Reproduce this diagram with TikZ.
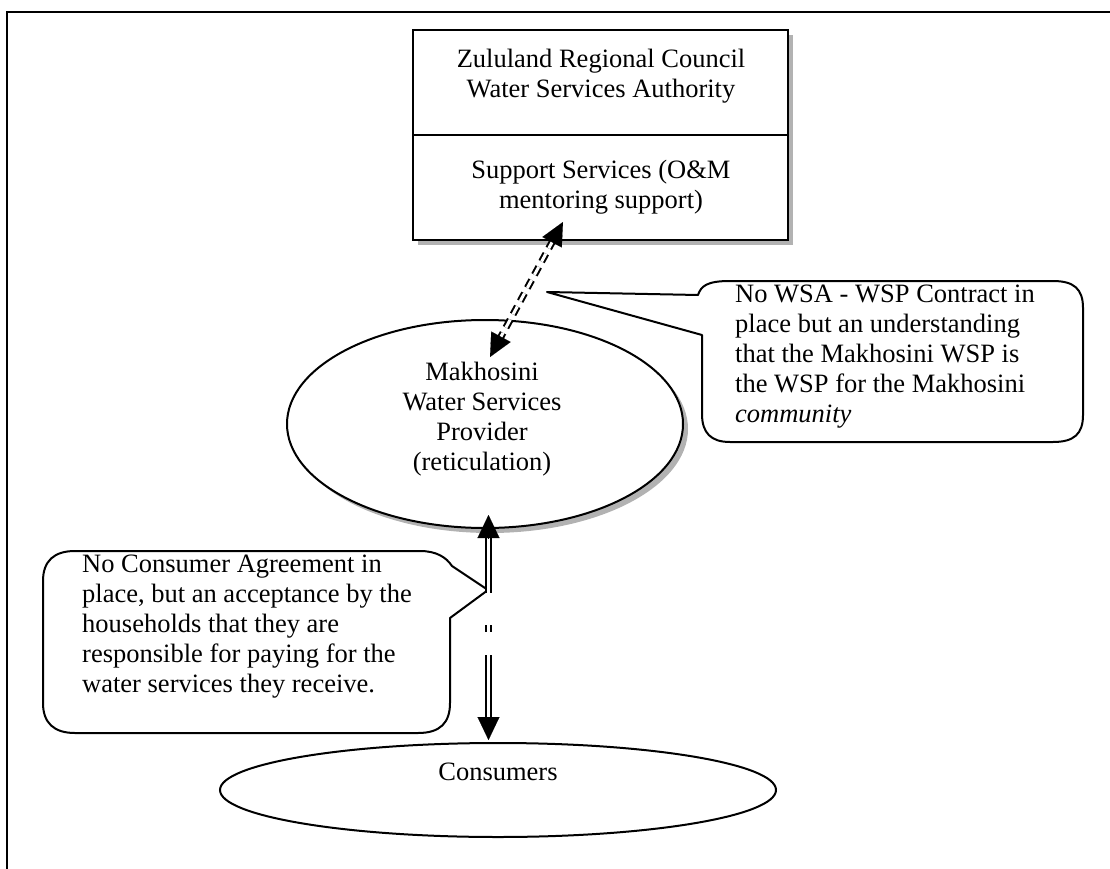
\documentclass[tikz,border=0pt]{standalone}
\usepackage{fontspec}
\setmainfont{Liberation Serif}
\usetikzlibrary{arrows.meta,calc,shapes.geometric,shadows}
\begin{document}
\begin{tikzpicture}[x=1pt,y=-1pt,
  every node/.style={font=\fontsize{26.5pt}{30pt}\selectfont, inner sep=0pt},
  ln/.style={line width=2pt},
  shadowed/.style={general shadow={shadow xshift=5pt, shadow yshift=-5pt, fill=gray!60}},
  dbl/.style={line width=2pt, double distance=3pt},
  head/.style={-{Triangle[length=23pt,width=22pt]}, line width=0.1pt},
  callout/.style={line width=2pt, fill=white, line join=round}
]
\useasboundingbox (0,0) rectangle (1110,869);
% frame
\draw[ln] (7,869) -- (7,12) -- (1110,12);

% top box
\node[draw, ln, fill=white, shadowed, minimum width=375pt, minimum height=210pt] (wsa) at (600.5,135) {};
\draw[ln] (wsa.west) -- (wsa.east);
\node[anchor=north, align=center] (wsatxt) at (601,49) {Zululand Regional Council\\Water Services Authority};
\node[anchor=north, align=center] (suptxt) at (601,160) {Support Services (O\&M\\mentoring support)};

% right callout
\draw[callout] (547,292) -- (698,295) .. controls (701,286) and (707,281) .. (730,281)
  -- (1053,281) .. controls (1074,281) and (1083,289) .. (1083,308)
  -- (1083,415) .. controls (1083,434) and (1074,442) .. (1053,442)
  -- (730,442) .. controls (711,442) and (702,433) .. (702,414)
  -- (702,335) -- cycle;
\node[anchor=north west, align=left] (wsptxt) at (735,285) {No WSA - WSP Contract in\\place but an understanding\\that the Makhosini WSP is\\the WSP for the Makhosini\\\textit{community}};

% Makhosini ellipse
\node[draw, ln, fill=white, shadowed, ellipse, minimum width=396pt, minimum height=208pt] (wsp) at (485,424) {};
\node[anchor=north, align=center] (wsplbl) at (482,362) {Makhosini\\Water Services\\Provider\\(reticulation)};

% dashed double arrow between box and ellipse
\coordinate (t1) at (563,222);
\coordinate (t2) at (490,357);
\draw[dbl, dash pattern=on 9pt off 6pt, shorten >=21pt, shorten <=21pt] (t1) -- (t2);
\draw[head] ($(t1)!23pt!(t2)$) -- (t1);
\draw[head] ($(t2)!23pt!(t1)$) -- (t2);

% left callout
\draw[callout] (488,590) -- (450,618) -- (450,703) .. controls (450,723) and (440,733) .. (418,733)
  -- (75,733) .. controls (54,733) and (43,723) .. (43,703)
  -- (43,581) .. controls (43,561) and (54,551) .. (75,551)
  -- (420,551) .. controls (436,551) and (446,557) .. (452,566) -- cycle;
\node[anchor=north west, align=left] (cattxt) at (82,555) {No Consumer Agreement in\\place, but an acceptance by the\\households that they are\\responsible for paying for the\\water services they receive.};

% consumers ellipse
\node[draw, ln, fill=white, ellipse, minimum width=556pt, minimum height=94pt] (cons) at (498,790) {};
\node[anchor=base] (conslbl) at (498,780) {Consumers};

% vertical double arrow
\coordinate (u1) at (488.5,515);
\coordinate (u2) at (488.5,538);
\coordinate (u3) at (488.5,593);
\coordinate (m1) at (488.5,625);
\coordinate (m2) at (488.5,632);
\coordinate (d1) at (488.5,655);
\coordinate (d2) at (488.5,717);
\coordinate (d3) at (488.5,740);
\draw[dbl] (u2) -- (u3);
\draw[dbl] (m1) -- (m2);
\draw[dbl] (d1) -- (d2);
\draw[head] (u2) -- (u1);
\draw[head] (d2) -- (d3);
\end{tikzpicture}
\end{document}
